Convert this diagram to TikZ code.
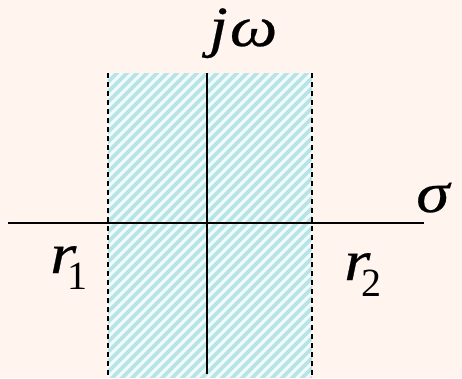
\documentclass[tikz,border=0pt]{standalone}
\usepackage{fontspec}
\setmainfont{Liberation Serif}
\newfontfamily\lblfont[FakeStretch=1.18, FakeBold=0.4]{Liberation Serif}
\newfontfamily\subfont{Liberation Serif}
\definecolor{bgpeach}{RGB}{255,244,238}
\definecolor{stripe}{RGB}{184,228,231}
\definecolor{stripebg}{RGB}{242,251,251}
\newcommand{\lowsub}[1]{\kern-9pt\raisebox{-16pt}{\subfont\fontsize{40}{40}\selectfont\upshape #1}}

\begin{document}
\begin{tikzpicture}[x=1pt, y=-1pt,
    axis/.style={line width=2pt, black},
    bound/.style={line width=2pt, black, dash pattern=on 5pt off 4pt},
    hatch/.style={stripe, line width=3.8pt},
    lbl/.style={anchor=base west, inner sep=0pt, font=\lblfont\fontsize{57}{60}\selectfont\itshape}]
    \fill[bgpeach] (0,0) rectangle (462,378);
    \useasboundingbox (0,0) rectangle (462,378);
    % shaded strip between r1 and r2
    \fill[stripebg] (108,73) rectangle (312,377);
    \begin{scope}
        \clip (108,73) rectangle (312,377);
        \foreach \i in {-210,-200,...,320}
            \draw[hatch] (\i,380) -- ++(320,-320);
    \end{scope}
    \draw[bound] (108,73) -- (108,377);
    \draw[bound] (312,73) -- (312,377);
    % axes
    \draw[axis] (8,223) -- (424,223);
    \draw[axis] (207,73) -- (207,374);
    % labels
    \node[lbl] (jw) at (209,46) {j\kern2ptω};
    \node[lbl] (sig) at (416,212) {σ};
    \node[lbl] (r1) at (50,273) {r\lowsub{1}};
    \node[lbl] (r2) at (344,280) {r\lowsub{2}};
\end{tikzpicture}
\end{document}
